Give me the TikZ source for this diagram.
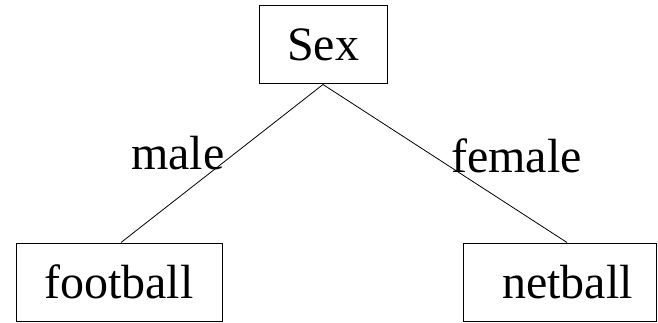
\documentclass[tikz,border=0pt]{standalone}
\usepackage{fontspec}
\setmainfont{Liberation Serif}
\begin{document}
\begin{tikzpicture}[x=1pt,y=-1pt,
  box/.style={draw, line width=1pt, inner sep=0pt, minimum height=78pt,
              font=\fontsize{48}{48}\selectfont},
  lbl/.style={inner sep=0pt, font=\fontsize{48}{48}\selectfont},
  branch/.style={line width=0.8pt}]
\useasboundingbox (0,0) rectangle (658,323);
% decision node and its two leaves
\node[box, minimum width=128pt] (sex) at (323,45) {Sex};
\node[box, minimum width=206pt] (football) at (119,282) {football};
\node[box, minimum width=193pt] (netball) at (559.5,282) {\hspace*{16pt}netball};
% branches
\draw[branch] (sex.south) -- ([xshift=2pt]football.north);
\draw[branch] (sex.south) -- ([xshift=7.5pt]netball.north);
% branch labels
\node[lbl, anchor=base west] (male) at (131,170) {male};
\node[lbl, anchor=base west] (female) at (451,173) {female};
\end{tikzpicture}
\end{document}
